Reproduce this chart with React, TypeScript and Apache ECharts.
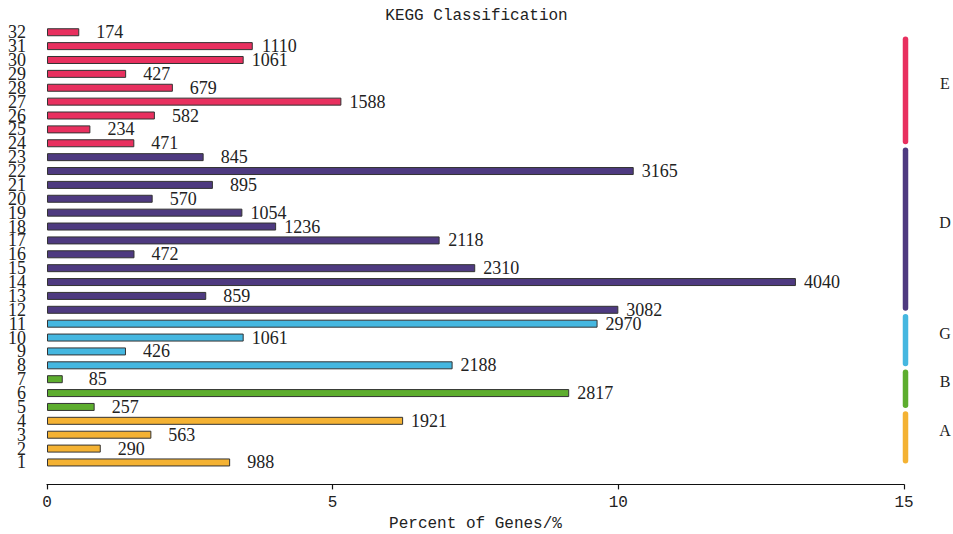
import React, { useEffect, useRef } from "react";
import * as echarts from "echarts";

// KEGG pathway classes, numbered bottom to top
const categories = [
  "1", "2", "3", "4", "5", "6", "7", "8", "9", "10", "11", "12", "13", "14", "15", "16",
  "17", "18", "19", "20", "21", "22", "23", "24", "25", "26", "27", "28", "29", "30", "31", "32",
];

// Number of genes annotated to each class
const geneCounts = [
  988, 290, 563, 1921, 257, 2817, 85, 2188, 426, 1061, 2970, 3082, 859, 4040, 2310, 472,
  2118, 1236, 1054, 570, 895, 3165, 845, 471, 234, 582, 1588, 679, 427, 1061, 1110, 174,
];

// Gene total that the percentages are taken against
const annotatedGenes = 30820;

// Top-level groups: name, first and last class on the bracket, colour
const groupNames = ["A", "B", "G", "D", "E"];
const groupFirst = [1, 5, 8, 12, 24];
const groupLast = [4, 7, 11, 23, 31];
const groupMembersLast = [4, 7, 11, 23, 32];
const groupColors = ["#F4B233", "#5DAD2E", "#45B7E0", "#4E3A80", "#E8305F"];

const xTicks = { min: 0, max: 15, interval: 5 };

const SERIF = '"Liberation Serif", "Times New Roman", serif';
const MONO = '"Liberation Mono", "DejaVu Sans Mono", monospace';

function groupIndexOf(classNo: number): number {
  for (let g = 0; g < groupNames.length; g++) {
    if (classNo >= groupFirst[g] && classNo <= groupMembersLast[g]) return g;
  }
  return 0;
}

export default function App() {
  const ref = useRef<HTMLDivElement>(null);

  useEffect(() => {
    if (!ref.current) return;
    const chart = echarts.init(ref.current, null, { renderer: "svg" });

    const barData = geneCounts.map((c, i) => ({
      value: (c / annotatedGenes) * 100,
      itemStyle: { color: groupColors[groupIndexOf(i + 1)] },
    }));

    const bracketData = groupNames.map((_, g) => [
      xTicks.max,
      groupFirst[g] - 1,
      groupLast[g] - 1,
      g,
    ]);

    chart.setOption({
      animation: false,
      backgroundColor: "#ffffff",
      title: {
        text: "KEGG Classification",
        left: "center",
        top: 3,
        textStyle: { fontFamily: MONO, fontSize: 16, fontWeight: "normal", color: "#222" },
      },
      grid: {
        left: 47,
        right: 49,
        top: 25.3,
        bottom: 64.6,
        containLabel: false,
        outerBoundsMode: "none",
      },
      xAxis: {
        type: "value",
        min: xTicks.min,
        max: xTicks.max,
        interval: xTicks.interval,
        offset: 15,
        name: "Percent of Genes/%",
        nameLocation: "middle",
        nameGap: 29,
        nameTextStyle: { fontFamily: MONO, fontSize: 16, color: "#222" },
        axisLine: { show: true, lineStyle: { color: "#111", width: 1.2 } },
        axisTick: { show: true, length: 5, lineStyle: { color: "#111", width: 1.2 } },
        axisLabel: { fontFamily: MONO, fontSize: 16, color: "#222", margin: 11 },
        splitLine: { show: false },
      },
      yAxis: {
        type: "category",
        data: categories,
        axisLine: { show: false },
        axisTick: { show: false },
        axisLabel: {
          interval: 0,
          fontFamily: SERIF,
          fontSize: 18,
          color: "#222",
          margin: 21,
          lineHeight: 14,
        },
      },
      series: [
        {
          type: "bar",
          data: barData,
          barWidth: 8,
          itemStyle: { borderColor: "#333", borderWidth: 1 },
          label: {
            show: true,
            position: "right",
            distance: 6,
            formatter: (p: any) => `{v|${geneCounts[p.dataIndex]}}`,
            rich: {
              v: {
                width: 38,
                align: "right",
                fontFamily: SERIF,
                fontSize: 18,
                color: "#222",
              },
            },
          },
        },
        {
          type: "custom",
          clip: false,
          silent: true,
          data: bracketData,
          encode: { x: 0, y: 1 },
          renderItem: (params: any, api: any) => {
            const g = api.value(3);
            const top = api.coord([api.value(0), api.value(2)]);
            const bot = api.coord([api.value(0), api.value(1)]);
            const band = api.size([0, 1])[1];
            const y0 = top[1] - band * 0.69;
            const y1 = bot[1] + band * 0.07;
            const cx = top[0] + 1.5;
            return {
              type: "group",
              children: [
                {
                  type: "rect",
                  shape: { x: cx - 2.75, y: y0, width: 5.5, height: y1 - y0, r: 2.75 },
                  style: { fill: groupColors[g] },
                },
                {
                  type: "text",
                  x: cx + 39.5,
                  y: (y0 + y1) / 2 - 7,
                  style: {
                    text: groupNames[g],
                    fill: "#222",
                    font: `16px ${SERIF}`,
                    align: "center",
                    verticalAlign: "middle",
                  },
                },
              ],
            };
          },
        },
      ],
    });

    return () => chart.dispose();
  }, []);

  return (
    <div
      ref={ref}
      style={{ position: "absolute", left: 0, top: 0, width: 953, height: 534 }}
    />
  );
}
